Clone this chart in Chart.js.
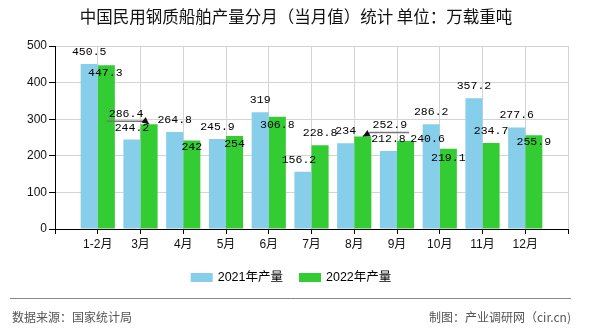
<!DOCTYPE html>
<html>
<head>
<meta charset="utf-8">
<script src="https://cdn.jsdelivr.net/npm/chart.js@4/dist/chart.umd.min.js"></script>
<style>
    html, body { margin: 0; padding: 0; background: #fff; }
</style>
</head>
<body>
<canvas id="chart" width="590" height="330"></canvas>
<script>
var months = ['1-2月', '3月', '4月', '5月', '6月', '7月', '8月', '9月', '10月', '11月', '12月'];
var output2021 = [450.5, 244.2, 264.8, 245.9, 319, 156.2, 234, 212.8, 286.2, 357.2, 277.6];
var output2022 = [447.3, 286.4, 242, 254, 306.8, 228.8, 252.9, 240.6, 219.1, 234.7, 255.9];
var seriesNames = ['2021年产量', '2022年产量'];
var yTicks = [0, 100, 200, 300, 400, 500];

var titleText = '中国民用钢质船舶产量分月（当月值）统计 单位：万载重吨';
var sourceText = '数据来源：国家统计局';
var makerText = '制图：产业调研网（cir.cn)';

var colors = ['rgb(135, 206, 235)', 'rgb(51, 204, 51)'];

/// SUMMARY
///        label offsets (dx, dy from bar top centre), one list per series
var labelShift2021 = [[0, -12], [0, -12], [0, -12], [0, -12], [0, -12], [-4, -12],
                      [0, -12], [0, -12], [0, -12], [0, -12], [0, -12]];
var labelShift2022 = [[-1, 8], [-23, -10], [0, 7], [0, 8], [0, 8], [0, -12],
                      [27, -11], [22, -2], [0, 9], [0, -12], [0, 7]];
var leaderLines2022 = [1, 6]; // labels pulled away from their bar, drawn with an arrow

// empty slot at each end of the axis, like the original
function padded(list, fill) {
    return [fill].concat(list).concat([fill]);
}

function drawArrow(ctx, fromX, fromY, toX, toY) {
    var angle = Math.atan2(toY - fromY, toX - fromX);
    ctx.beginPath();
    ctx.moveTo(toX, toY);
    ctx.lineTo(toX - 7 * Math.cos(angle) + 3.5 * Math.sin(angle), toY - 7 * Math.sin(angle) - 3.5 * Math.cos(angle));
    ctx.lineTo(toX - 7 * Math.cos(angle) - 3.5 * Math.sin(angle), toY - 7 * Math.sin(angle) + 3.5 * Math.cos(angle));
    ctx.closePath();
    ctx.fill();
}

var valueLabels = {
    id: 'valueLabels',
    afterDatasetsDraw: function (chart) {
        var ctx = chart.ctx;
        var shifts = [labelShift2021, labelShift2022];
        ctx.save();
        ctx.font = '11.5px "Liberation Mono", monospace';
        ctx.textAlign = 'center';
        ctx.textBaseline = 'middle';
        chart.data.datasets.forEach(function (dataset, d) {
            var meta = chart.getDatasetMeta(d);
            for (var i = 0; i < months.length; i++) {
                var bar = meta.data[i + 1];
                var text = String(dataset.data[i + 1]);
                var lx = bar.x + shifts[d][i][0];
                var ly = bar.y + shifts[d][i][1];
                if (d === 1 && leaderLines2022.indexOf(i) >= 0) {
                    var half = ctx.measureText(text).width / 2 + 2;
                    var dir = bar.x > lx ? 1 : -1;
                    var nearX = lx + dir * half;
                    var farX = lx - dir * half;
                    ctx.strokeStyle = '#777';
                    ctx.lineWidth = 1.5;
                    ctx.beginPath();
                    ctx.moveTo(farX, ly + 7);
                    ctx.lineTo(nearX, ly + 7);
                    ctx.lineTo(bar.x, bar.y);
                    ctx.stroke();
                    ctx.fillStyle = '#111';
                    drawArrow(ctx, nearX, ly + 7, bar.x, bar.y);
                }
                ctx.fillStyle = '#000';
                ctx.fillText(text, lx, ly);
            }
        });
        ctx.restore();
    }
};

var decor = {
    id: 'decor',
    afterDraw: function (chart) {
        var ctx = chart.ctx;
        ctx.save();
        ctx.textBaseline = 'middle';

        // title
        ctx.fillStyle = '#111';
        ctx.font = '16.5px "Noto Sans CJK SC", sans-serif';
        ctx.textAlign = 'center';
        ctx.fillText(titleText, 296, 17);

        // legend
        ctx.font = '12.5px "Liberation Sans", "Noto Sans CJK SC", sans-serif';
        ctx.textAlign = 'left';
        var boxW = 22, boxH = 9, gap = 5, itemGap = 16;
        var total = 0;
        seriesNames.forEach(function (name, k) {
            total += boxW + gap + ctx.measureText(name).width + (k > 0 ? itemGap : 0);
        });
        var x = 291 - total / 2;
        seriesNames.forEach(function (name) {
            var k = seriesNames.indexOf(name);
            ctx.fillStyle = colors[k];
            ctx.fillRect(x, 273, boxW, boxH);
            ctx.fillStyle = '#000';
            ctx.fillText(name, x + boxW + gap, 278);
            x += boxW + gap + ctx.measureText(name).width + itemGap;
        });

        // footer
        ctx.strokeStyle = '#888';
        ctx.lineWidth = 1;
        ctx.beginPath();
        ctx.moveTo(10, 298.5);
        ctx.lineTo(571, 298.5);
        ctx.stroke();
        ctx.fillStyle = '#555';
        ctx.font = '12px "Noto Sans CJK SC", sans-serif';
        ctx.fillText(sourceText, 12, 317);
        ctx.textAlign = 'right';
        ctx.fillText(makerText, 571, 317);
        ctx.restore();
    }
};

const canvas = document.getElementById('chart');

const data = {
    labels: padded(months, ''),
    datasets: [
        {
            label: seriesNames[0],
            data: padded(output2021, null),
            backgroundColor: colors[0],
            categoryPercentage: 0.8,
            barPercentage: 1.0
        },
        {
            label: seriesNames[1],
            data: padded(output2022, null),
            backgroundColor: colors[1],
            categoryPercentage: 0.8,
            barPercentage: 1.0
        }
    ]
};

const config = {
    type: 'bar',
    data: data,
    options: {
        responsive: false,
        devicePixelRatio: 1,
        animation: false,
        layout: {
            padding: { top: 46, right: 22, bottom: 81, left: 0 }
        },
        scales: {
            x: {
                offset: false,
                grid: {
                    offset: false,
                    color: function (c) { return c.index === 0 ? 'rgba(0,0,0,0)' : '#d4d4d4'; },
                    tickColor: '#000',
                    tickLength: 5
                },
                border: { color: '#000' },
                ticks: {
                    color: '#111',
                    padding: 3,
                    maxRotation: 0,
                    autoSkip: false,
                    font: { family: '"Liberation Sans", "Noto Sans CJK SC", sans-serif', size: 12 }
                },
                afterFit: function (scale) { scale.height = 20; }
            },
            y: {
                min: yTicks[0],
                max: yTicks[yTicks.length - 1],
                grid: {
                    color: function (c) { return c.index === 0 ? 'rgba(0,0,0,0)' : '#d4d4d4'; },
                    tickColor: '#000',
                    tickLength: 6
                },
                border: { color: '#000' },
                ticks: {
                    stepSize: yTicks[1] - yTicks[0],
                    color: '#111',
                    padding: 2,
                    font: { family: '"Liberation Sans", sans-serif', size: 12 }
                },
                afterFit: function (scale) { scale.width = 55; }
            }
        },
        plugins: {
            legend: { display: false },
            title: { display: false },
            tooltip: { enabled: false }
        }
    },
    plugins: [valueLabels, decor]
};

const jsChart = new Chart(canvas, config);
</script>
</body>
</html>
